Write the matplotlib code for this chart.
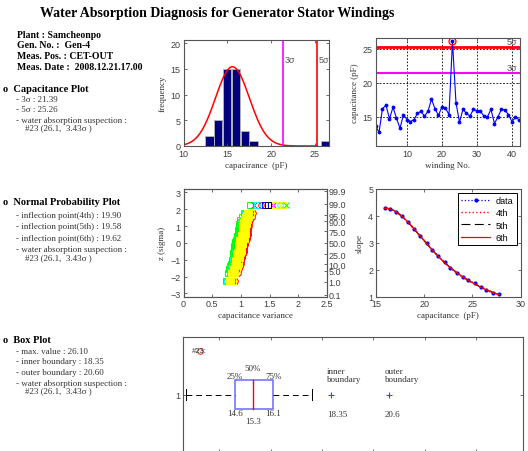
import numpy as np
import matplotlib
matplotlib.use('Agg')
import matplotlib.pyplot as plt
from statistics import NormalDist

# capacitance per winding (pF), winding 1..42
winding_no = np.arange(1, 43)
capacitance = [13.7, 12.7, 16.2, 16.7, 14.7, 16.4, 14.8, 13.3, 15.3, 14.6,
               14.3, 14.6, 15.5, 15.8, 15.1, 15.8, 17.6, 16.2, 15.2, 16.5,
               16.3, 15.3, 26.1, 17.1, 14.2, 16.1, 15.5, 15.1, 16.1, 15.9,
               15.8, 15.1, 15.0, 16.1, 14.0, 15.0, 16.1, 16.0, 15.3, 14.3,
               14.9, 14.6]
suspect_no = 23

# histogram
hist_centers = [12.95, 13.95, 15.0, 16.0, 17.05, 18.0, 26.2]
hist_counts = [2, 5, 15, 15, 3, 1, 1]
sigma3 = 21.39
sigma5 = 25.26
curve_peak = 15.4

# normal probability plot: extra series (shift of ratio, max ratio)
npp_shift = [-0.08, 0.07, -0.05, 0.09, 0.0, -0.03, 0.04, 0.02, -0.01, 0.05, -0.06, 0.01]
npp_max = [1.15, 1.22, 1.28, 1.35, 1.42, 1.50, 1.56, 1.62, 1.68, 1.74, 1.79, 1.47]
npp_colors = ['#00ff00', '#ff00ff', '#00ffff', '#ff0000', '#0000ff', '#ffff00',
              '#ff00ff', '#ffff00', '#00ffff', '#ffff00', '#00ff00', '#000000']
prob_labels = ['99.9', '99.0', '95.0', '90.0', '75.0', '50.0', '25.0', '10.0', '5.0', '1.0', '0.1']
prob_values = [0.999, 0.99, 0.95, 0.90, 0.75, 0.50, 0.25, 0.10, 0.05, 0.01, 0.001]

# slope curve
slope_x = [15.9, 16.5, 17.1, 17.66, 18.37, 18.97, 19.57, 20.25, 20.85, 21.45,
           22.13, 22.7, 23.37, 24.0, 24.57, 25.25, 25.85, 26.45, 27.1, 27.8]
slope_y = [4.28, 4.26, 4.16, 3.98, 3.76, 3.50, 3.25, 2.99, 2.73, 2.50,
           2.28, 2.07, 1.88, 1.74, 1.61, 1.50, 1.36, 1.25, 1.14, 1.09]

# box plot stats
box_min, box_q1, box_med, box_q3, box_max = 12.7, 14.6, 15.3, 16.1, 17.6
inner_bound = 18.35
outer_bound = 20.6

SERIF = 'Liberation Serif'
SANS = 'Liberation Sans'
TXT = '#333333'
TICK = '#404040'

plt.rcParams['font.family'] = SANS
plt.rcParams['axes.edgecolor'] = '#555555'
plt.rcParams['axes.linewidth'] = 0.8

W, H = 528, 452
fig = plt.figure(figsize=(W / 100, H / 100), dpi=100)


def px_axes(left, top, right, bottom):
    return fig.add_axes([left / W, 1 - bottom / H, (right - left) / W, (bottom - top) / H])


def style(ax, right=True):
    ax.tick_params(direction='in', length=2.5, width=0.6, labelsize=6.5,
                   labelcolor=TICK, color='#555555', top=True, right=right, pad=2)


def ftext(x, y, s, **kw):
    kw.setdefault('family', SERIF)
    kw.setdefault('color', TXT)
    kw.setdefault('fontsize', 6.5)
    fig.text(x / W, 1 - y / H, s, va='center', ha='left', **kw)


# ---- left column text
fig.text(40 / W, 1 - 14 / H, 'Water Absorption Diagnosis for Generator Stator Windings',
         family=SERIF, fontweight='bold', fontsize=10, va='center', ha='left')
info = ['Plant : Samcheonpo', 'Gen. No. :  Gen-4', 'Meas. Pos. : CET-OUT',
        'Meas. Date :  2008.12.21.17.00']
for i, s in enumerate(info):
    ftext(17, 35 + 10.7 * i, s, fontweight='bold', color='black', fontsize=7)

susp = '#23 (26.1,  3.43\u03c3 )'
ftext(3, 89, 'o  Capacitance Plot', fontweight='bold', color='black', fontsize=7.5)
ftext(16, 100, '- 3\u03c3 : %.2f' % sigma3)
ftext(16, 110.5, '- 5\u03c3 : %.2f' % sigma5)
ftext(16, 121, '- water absorption suspection :')
ftext(25, 128, susp)

ftext(3, 203, 'o  Normal Probability Plot', fontweight='bold', color='black', fontsize=7.5)
ftext(16, 216.5, '- inflection point(4th) : 19.90')
ftext(16, 227.5, '- inflection point(5th) : 19.58')
ftext(16, 239, '- inflection point(6th) : 19.62')
ftext(16, 250, '- water absorption suspection :')
ftext(25, 258, susp)

ftext(3, 341, 'o  Box Plot', fontweight='bold', color='black', fontsize=7.5)
ftext(16, 352, '- max. value : 26.10')
ftext(16, 362.5, '- inner boundary : %.2f' % inner_bound)
ftext(16, 373, '- outer boundary : %.2f' % outer_bound)
ftext(16, 384, '- water absorption suspection :')
ftext(25, 391.5, susp)

# ---- histogram
ax1 = px_axes(183.5, 40.5, 329, 147)
ax1.bar(hist_centers, hist_counts, width=0.95, color='#000080', edgecolor='#b0b0b0', linewidth=0.7)
mu = (5 * sigma3 - 3 * sigma5) / 2
sd = (sigma5 - sigma3) / 2
xs = np.linspace(10, sigma5, 300)
ax1.plot(xs, curve_peak * np.exp(-(xs - mu) ** 2 / (2 * sd ** 2)), color='red', lw=1.1)
ax1.axvline(sigma3, color='magenta', lw=1.2)
ax1.axvline(sigma5, color='red', lw=1.2)
ax1.text(sigma3 + 0.15, 16.8, '3\u03c3', fontsize=6.5, color='#555555', va='center')
ax1.text(sigma5 + 0.15, 16.8, '5\u03c3', fontsize=6.5, color='#555555', va='center')
ax1.set_xlim(10, 26.6)
ax1.set_ylim(0, 20.7)
ax1.set_xticks([10, 15, 20, 25])
ax1.set_yticks([0, 5, 10, 15, 20])
ax1.set_xlabel('capacirance  (pF)', family=SERIF, fontsize=6.5, color=TXT, labelpad=2)
ax1.set_ylabel('frequency', family=SERIF, fontsize=6.5, color=TXT, labelpad=3)
style(ax1)

# ---- capacitance per winding
ax2 = px_axes(375.5, 39, 520, 147)
ax2.grid(True, color='black', linestyle=(0, (2, 2)), lw=0.6)
ax2.axhline(sigma5, color='red', lw=2)
ax2.axhline(sigma3, color='magenta', lw=1.5)
ax2.plot(winding_no, capacitance, color='blue', lw=0.8, marker='.', ms=3.5)
ax2.plot(suspect_no, capacitance[suspect_no - 1], 'o', mfc='none', mec='red', ms=5, mew=0.9)
ax2.text(41.6, sigma5 + 0.2, '5\u03c3', fontsize=6.5, color='#555555', ha='right', va='bottom')
ax2.text(41.6, sigma3 + 0.2, '3\u03c3', fontsize=6.5, color='#555555', ha='right', va='bottom')
ax2.set_xlim(1, 42.3)
ax2.set_ylim(10.7, 26.6)
ax2.set_xticks([10, 20, 30, 40])
ax2.set_yticks([15, 20, 25])
ax2.set_xlabel('winding No.', family=SERIF, fontsize=6.5, color=TXT, labelpad=2)
ax2.set_ylabel('capacitance (pF)', family=SERIF, fontsize=6.5, color=TXT, labelpad=3)
ax2.set_axisbelow(True)
style(ax2)

# ---- normal probability plot
ax3 = px_axes(183.5, 190, 327, 297.7)
n = len(capacitance)
z = np.array([NormalDist().inv_cdf((i + 0.5) / n) for i in range(n)])
ratio = np.sort(capacitance) / np.mean(capacitance)
markers = ['s', 'x', 's', 'o', 's', 's', 'x', 's', 'o', 's', 'x', 's']
for shift, top, c, m in zip(npp_shift, npp_max, npp_colors, markers):
    xs3 = np.append(ratio[:-1] + shift, top)
    ax3.plot(xs3, z, m, ms=4, mew=0.7, mec=c, mfc='none')
for shift in [-0.02, 0.0, 0.02]:
    ax3.plot(ratio[:-1] + shift, z[:-1], 's', ms=4, mew=0.7, mec='#ffff00', mfc='#ffff00')
ax3.set_xlim(0, 2.5)
ax3.set_ylim(-3.2, 3.2)
ax3.set_xticks([0, 0.5, 1, 1.5, 2, 2.5])
ax3.set_xticklabels(['0', '0.5', '1', '1.5', '2', '2.5'])
ax3.set_yticks([-3, -2, -1, 0, 1, 2, 3])
ax3.set_xlabel('capacitance variance', family=SERIF, fontsize=6.5, color=TXT, labelpad=2)
ax3.set_ylabel('z (sigma)', family=SERIF, fontsize=6.5, color=TXT, labelpad=3)
style(ax3, right=False)
ax3r = ax3.twinx()
ax3r.set_ylim(-3.2, 3.2)
ax3r.set_yticks([NormalDist().inv_cdf(p) for p in prob_values])
ax3r.set_yticklabels(prob_labels)
ax3r.tick_params(direction='in', length=2.5, width=0.6, labelsize=6.5,
                 labelcolor=TICK, color='#555555', pad=1)

# ---- slope plot
ax4 = px_axes(376, 190, 520.5, 297.7)
sx = np.array(slope_x)
xc = sx - sx.mean()
xf = np.linspace(sx.min(), sx.max(), 200)
xfc = xf - sx.mean()
ax4.plot(sx, slope_y, color='blue', ls=':', marker='.', ms=4, lw=0.9, label='data')
ax4.plot(xf, np.polyval(np.polyfit(xc, slope_y, 4), xfc), color='red', ls=':', lw=1.0, label='4th')
ax4.plot(xf, np.polyval(np.polyfit(xc, slope_y, 5), xfc), color='black', ls=(0, (8, 4)), lw=0.8, label='5th')
ax4.plot(xf, np.polyval(np.polyfit(xc, slope_y, 6), xfc), color='red', ls='-', lw=0.9, label='6th')
ax4.set_xlim(15, 30)
ax4.set_ylim(1, 5)
ax4.set_xticks([15, 20, 25, 30])
ax4.set_yticks([1, 2, 3, 4, 5])
ax4.set_xlabel('capacitance  (pF)', family=SERIF, fontsize=6.5, color=TXT, labelpad=2)
ax4.set_ylabel('slope', family=SERIF, fontsize=6.5, color=TXT, labelpad=3)
style(ax4)
leg = ax4.legend(loc='upper right', fontsize=6.5, fancybox=False, framealpha=1,
                 edgecolor='black', borderaxespad=0.4, handlelength=3.2,
                 labelspacing=0.35, borderpad=0.4, handletextpad=0.6)
leg.get_frame().set_linewidth(0.7)

# ---- box plot
ax5 = px_axes(183.3, 338, 523.3, 453)
bh = 0.125
ax5.add_patch(plt.Rectangle((box_q1, 1 - bh), box_q3 - box_q1, 2 * bh,
                            fill=False, edgecolor='#6a6aff', lw=1.1))
ax5.plot([box_med, box_med], [1 - bh, 1 + bh], color='red', lw=1.0)
dash = (0, (6, 4))
ax5.plot([box_min, box_q1], [1, 1], color='black', ls=dash, lw=0.7)
ax5.plot([box_q3, box_max], [1, 1], color='black', ls=dash, lw=0.7)
ax5.plot([box_min, box_min], [0.95, 1.05], color='black', lw=0.7)
ax5.plot([box_max, box_max], [0.95, 1.05], color='black', lw=0.7)
bt = dict(family=SERIF, fontsize=6.5, color=TXT)
ax5.text(box_q1, 1 + bh, '25%', ha='center', va='bottom', **bt)
ax5.text(box_med, 1 + bh + 0.07, '50%', ha='center', va='bottom', **bt)
ax5.text(box_q3, 1 + bh, '75%', ha='center', va='bottom', **bt)
ax5.text(box_q1, 1 - bh, '%.1f' % box_q1, ha='center', va='top', **bt)
ax5.text(box_med, 1 - bh - 0.07, '%.1f' % box_med, ha='center', va='top', **bt)
ax5.text(box_q3, 1 - bh, '%.1f' % box_q3, ha='center', va='top', **bt)
for b, name, lab in [(inner_bound, 'inner\nboundary', '%.2f' % inner_bound),
                     (outer_bound, 'outer\nboundary', '%g' % outer_bound)]:
    ax5.plot(b, 1, '+', color='#4040ff', ms=5, mew=0.8)
    ax5.text(b - 0.15, 1.1, name, ha='left', va='bottom', linespacing=1.0, **bt)
    ax5.text(b - 0.15, 0.83, lab, ha='left', va='center', **bt)
ax5.text(12.95, 1.38, '#23:', fontsize=5.5, color='#333333', va='center', ha='left')
ax5.plot(13.25, 1.38, 'o', ms=4, mfc='none', mec='red', mew=0.8, alpha=0.8)
ax5.set_xlim(12.6, 25.83)
ax5.set_ylim(0.5, 1.5)
ax5.set_xticks([14, 16, 18, 20, 22, 24])
ax5.set_xticklabels([])
ax5.set_yticks([1])
style(ax5)

fig.savefig('out.png', dpi=100)
